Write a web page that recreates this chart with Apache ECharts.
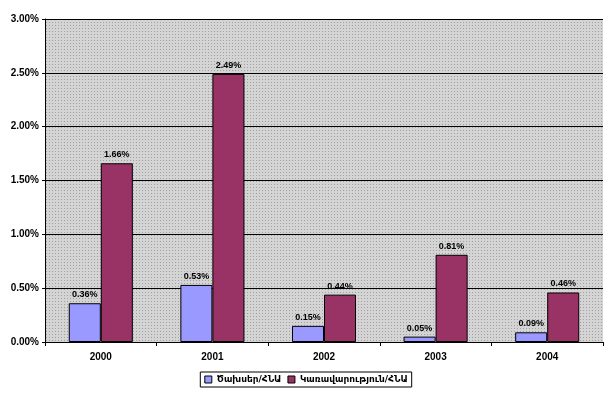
<!DOCTYPE html>
<html><head><meta charset="utf-8">
<script src="https://cdn.jsdelivr.net/npm/echarts@6/dist/echarts.min.js"></script>
<style>html,body{margin:0;padding:0;background:#fff}#c{width:612px;height:395px}</style>
</head><body><div id="c"></div>
<script>
const categories = ['2000','2001','2002','2003','2004'];
const seriesNames = ['Ծախսեր/ՀՆԱ','Կառավարություն/ՀՆԱ'];
const series1 = [0.36, 0.53, 0.15, 0.05, 0.09];
const series2 = [1.66, 2.49, 0.44, 0.81, 0.46];
const yTicks = [0, 0.5, 1, 1.5, 2, 2.5, 3];

const pc = document.createElement('canvas');
pc.width = 3; pc.height = 3;
const g = pc.getContext('2d');
g.fillStyle = '#d4d4d4'; g.fillRect(0,0,3,3);
g.fillStyle = '#a0a0a0'; g.fillRect(1,1,1,1);

const chart = echarts.init(document.getElementById('c'), null, {renderer:'canvas'});
const lbl = {show:true, position:'top', distance:4, color:'#000', fontFamily:'Liberation Sans', fontWeight:'bold', fontSize:9,
  formatter: p => p.value.toFixed(2) + '%'};
chart.setOption({
  animation:false,
  backgroundColor:'#fff',
  grid:{left:45, right:9, top:19, bottom:53, show:true, backgroundColor:{image:pc, repeat:'repeat'}, borderWidth:0},
  legend:{bottom:8, left:'center', itemWidth:7, itemHeight:7, itemGap:6, padding:[3,4,3,4], borderColor:'#000', borderWidth:1,
    itemStyle:{borderColor:'#000', borderWidth:1},
    textStyle:{fontFamily:'DejaVu Sans', fontWeight:'bold', fontSize:9, color:'#000'},
    data: seriesNames.map(n => ({name:n, icon:'rect'}))},
  xAxis:{type:'category', data:categories,
    axisLine:{lineStyle:{color:'#000', width:1}},
    axisTick:{show:true, length:4, lineStyle:{color:'#000'}},
    axisLabel:{color:'#000', fontFamily:'Liberation Sans', fontWeight:'bold', fontSize:10, margin:10}},
  yAxis:{type:'value', min:yTicks[0], max:yTicks[yTicks.length-1], interval:0.5,
    axisLine:{show:true, lineStyle:{color:'#000', width:1}},
    axisTick:{show:true, length:3, lineStyle:{color:'#000'}},
    splitLine:{show:true, lineStyle:{color:'#000', width:1}},
    axisLabel:{color:'#000', fontFamily:'Liberation Sans', fontWeight:'bold', fontSize:10, margin:6,
      formatter: v => v.toFixed(2) + '%'}},
  series:[
    {name:seriesNames[0], type:'bar', data:series1, barWidth:'28.7%', barGap:'0%',
      itemStyle:{color:'#9999ff', borderColor:'#000', borderWidth:1}, label:lbl},
    {name:seriesNames[1], type:'bar', data:series2, barWidth:'28.7%', barGap:'0%',
      itemStyle:{color:'#993366', borderColor:'#000', borderWidth:1}, label:lbl}
  ]
});
</script></body></html>
